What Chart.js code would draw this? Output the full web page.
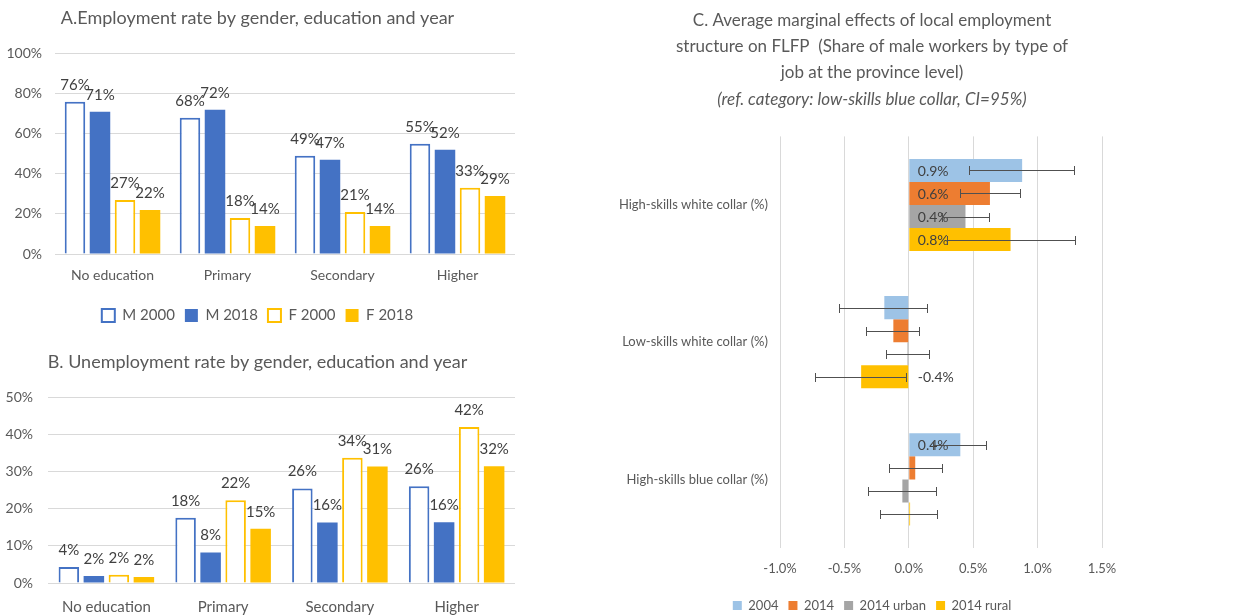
<!DOCTYPE html>
<html>
<head>
<meta charset="utf-8">
<script src="https://cdn.jsdelivr.net/npm/chart.js@4"></script>
<style>
  html, body { margin: 0; padding: 0; background: #fff; }
  body { width: 1234px; height: 616px; position: relative; overflow: hidden; }
  canvas { position: absolute; }
  #chartA { left: 0; top: 0; }
  #chartB { left: 0; top: 340px; }
  #chartC { left: 600px; top: 0; }
</style>
</head>
<body>
<canvas id="chartA" width="535" height="333"></canvas>
<canvas id="chartB" width="535" height="281"></canvas>
<canvas id="chartC" width="634" height="622"></canvas>
<script>
// categories and values
var eduCats = ["No education", "Primary", "Secondary", "Higher"];
var empM2000 = [76, 68, 49, 55];
var empM2018 = [71, 72, 47, 52];
var empF2000 = [27, 18, 21, 33];
var empF2018 = [22, 14, 14, 29];

var unempM2000 = [4.3, 17.6, 25.5, 26.1];
var unempM2018 = [1.9, 8.2, 16.3, 16.4];
var unempF2000 = [2.2, 22.3, 33.8, 42.1];
var unempF2018 = [1.6, 14.6, 31.4, 31.5];

var pctTicksA = [0, 20, 40, 60, 80, 100];
var pctTicksB = [0, 10, 20, 30, 40, 50];

var effCats = ["High-skills white collar (%)", "Low-skills white collar (%)", "High-skills blue collar (%)"];
var eff2004 = [0.88, -0.19, 0.40];
var lo2004 = [0.47, -0.54, 0.19];
var hi2004 = [1.28, 0.14, 0.60];
var eff2014 = [0.63, -0.12, 0.05];
var lo2014 = [0.40, -0.33, -0.15];
var hi2014 = [0.86, 0.08, 0.26];
var effUrban = [0.44, -0.01, -0.05];
var loUrban = [0.26, -0.18, -0.32];
var hiUrban = [0.62, 0.16, 0.21];
var effRural = [0.79, -0.37, 0.01];
var loRural = [0.30, -0.73, -0.22];
var hiRural = [1.29, -0.02, 0.22];
var show2004 = [true, false, true];
var show2014 = [true, false, false];
var showUrban = [true, false, false];
var showRural = [true, true, false];

var BLUE = "#4472C4";
var GOLD = "#FFC000";
var GREY = "#595959";
var GRID = "#D9D9D9";

Chart.defaults.font.family = "Lato";
Chart.defaults.color = GREY;

// value labels above the bars (charts A and B)
var topLabels = {
  id: "topLabels",
  afterDatasetsDraw: function (chart) {
    var ctx = chart.ctx;
    ctx.save();
    ctx.font = "15px Lato";
    ctx.fillStyle = "#404040";
    ctx.textAlign = "center";
    ctx.textBaseline = "middle";
    chart.data.datasets.forEach(function (ds, i) {
      chart.getDatasetMeta(i).data.forEach(function (bar, j) {
        ctx.fillText(Math.round(ds.data[j]) + "%", bar.x, bar.y - 17);
      });
    });
    ctx.restore();
  },
};

// error bars + labels for chart C
var errorBars = {
  id: "errorBars",
  afterDatasetsDraw: function (chart) {
    var ctx = chart.ctx;
    var x = chart.scales.x;
    var zero = x.getPixelForValue(0);
    ctx.save();
    chart.data.datasets.forEach(function (ds, i) {
      chart.getDatasetMeta(i).data.forEach(function (bar, j) {
        if (ds.show[j]) {
          ctx.font = "14px Lato";
          ctx.fillStyle = "#404040";
          ctx.textAlign = "left";
          ctx.textBaseline = "middle";
          ctx.fillText(ds.data[j].toFixed(1) + "%", zero + 9, bar.y + 1);
        }
        var x1 = Math.round(x.getPixelForValue(ds.lo[j])) + 0.5;
        var x2 = Math.round(x.getPixelForValue(ds.hi[j])) + 0.5;
        var y = Math.round(bar.y) + 0.5;
        ctx.strokeStyle = "#505050";
        ctx.lineWidth = 1;
        ctx.beginPath();
        ctx.moveTo(x1, y);
        ctx.lineTo(x2, y);
        ctx.moveTo(x1, y - 4.5);
        ctx.lineTo(x1, y + 4.5);
        ctx.moveTo(x2, y - 4.5);
        ctx.lineTo(x2, y + 4.5);
        ctx.stroke();
      });
    });
    ctx.restore();
  },
};

function eduDatasets(m0, m1, f0, f1) {
  return [
    { label: "M 2000", data: m0, backgroundColor: "#fff", borderColor: BLUE, borderWidth: 2 },
    { label: "M 2018", data: m1, backgroundColor: BLUE, borderColor: BLUE, borderWidth: 0 },
    { label: "F 2000", data: f0, backgroundColor: "#fff", borderColor: GOLD, borderWidth: 2 },
    { label: "F 2018", data: f1, backgroundColor: GOLD, borderColor: GOLD, borderWidth: 0 },
  ];
}

function pctAxis(ticks, width, pad) {
  return {
    min: ticks[0],
    max: ticks[ticks.length - 1],
    afterBuildTicks: function (s) {
      s.ticks = ticks.map(function (v) { return { value: v }; });
    },
    ticks: { callback: function (v) { return v + "%"; }, color: GREY, font: { size: 14 }, padding: pad },
    grid: { color: GRID, drawTicks: false },
    border: { display: false },
    afterFit: function (s) { s.width = width; },
  };
}

// A. Employment rate
new Chart(document.getElementById("chartA"), {
  type: "bar",
  data: { labels: eduCats, datasets: eduDatasets(empM2000, empM2018, empF2000, empF2018) },
  options: {
    responsive: false,
    animation: false,
    layout: { padding: { left: 0, right: 20, top: 0, bottom: 0 } },
    datasets: { bar: { categoryPercentage: 0.87, barPercentage: 0.82 } },
    plugins: {
      title: {
        display: true,
        text: "A.Employment rate by gender, education and year",
        color: GREY,
        font: { size: 18, weight: "normal" },
        padding: { top: 7, bottom: 25 },
      },
      legend: {
        position: "bottom",
        labels: { boxWidth: 13, boxHeight: 13, color: GREY, font: { size: 15 }, padding: 10 },
      },
      tooltip: { enabled: false },
    },
    scales: {
      x: {
        grid: { display: false, drawTicks: false },
        border: { display: false },
        ticks: { color: GREY, font: { size: 14 }, padding: 13 },
        afterFit: function (s) { s.height = 44; },
      },
      y: pctAxis(pctTicksA, 55, 13),
    },
  },
  plugins: [topLabels],
});

// B. Unemployment rate
new Chart(document.getElementById("chartB"), {
  type: "bar",
  data: { labels: eduCats, datasets: eduDatasets(unempM2000, unempM2018, unempF2000, unempF2018) },
  options: {
    responsive: false,
    animation: false,
    layout: { padding: { left: 0, right: 20, top: 0, bottom: 0 } },
    datasets: { bar: { categoryPercentage: 0.857, barPercentage: 0.82 } },
    plugins: {
      title: {
        display: true,
        text: "B. Unemployment rate by gender, education and year",
        color: GREY,
        font: { size: 18, weight: "normal" },
        padding: { top: 11, bottom: 25 },
      },
      legend: { display: false },
      tooltip: { enabled: false },
    },
    scales: {
      x: {
        grid: { display: false, drawTicks: false },
        border: { display: false },
        ticks: { color: GREY, font: { size: 15 }, padding: 15 },
        afterFit: function (s) { s.height = 38; },
      },
      y: pctAxis(pctTicksB, 48, 15),
    },
  },
  plugins: [topLabels],
});

// C. Average marginal effects
new Chart(document.getElementById("chartC"), {
  type: "bar",
  data: {
    labels: effCats,
    datasets: [
      { label: "2004", data: eff2004, lo: lo2004, hi: hi2004, show: show2004, backgroundColor: "#9DC3E6" },
      { label: "2014", data: eff2014, lo: lo2014, hi: hi2014, show: show2014, backgroundColor: "#ED7D31" },
      { label: "2014 urban", data: effUrban, lo: loUrban, hi: hiUrban, show: showUrban, backgroundColor: "#A5A5A5" },
      { label: "2014 rural", data: effRural, lo: loRural, hi: hiRural, show: showRural, backgroundColor: GOLD },
    ],
  },
  options: {
    indexAxis: "y",
    responsive: false,
    animation: false,
    layout: { padding: { left: 0, right: 90, top: 0, bottom: 0 } },
    datasets: { bar: { categoryPercentage: 0.672, barPercentage: 1.0 } },
    plugins: {
      title: {
        display: true,
        text: [
          "C. Average marginal effects of local employment",
          "structure on FLFP  (Share of male workers by type of",
          "job at the province level)",
        ],
        color: GREY,
        font: { size: 17, weight: "normal", lineHeight: 1.55 },
        padding: { top: 7, bottom: 0 },
      },
      subtitle: {
        display: true,
        text: "(ref. category: low-skills blue collar, CI=95%)",
        color: GREY,
        font: { size: 17, style: "italic", weight: "normal", lineHeight: 1.55 },
        padding: { top: 0, bottom: 24 },
      },
      legend: {
        position: "bottom",
        labels: { boxWidth: 9, boxHeight: 9, color: GREY, font: { size: 13 }, padding: 10 },
      },
      tooltip: { enabled: false },
    },
    scales: {
      x: {
        min: -1,
        max: 1.5,
        ticks: {
          stepSize: 0.5,
          callback: function (v) { return v.toFixed(1) + "%"; },
          color: GREY,
          font: { size: 13 },
          padding: 13,
        },
        grid: { color: GRID, drawTicks: false },
        border: { display: false },
        afterFit: function (s) { s.height = 41; },
      },
      y: {
        grid: { display: false, drawTicks: false },
        border: { display: false },
        ticks: { color: GREY, font: { size: 13 }, padding: 12 },
        afterFit: function (s) { s.width = 180; },
      },
      // empty spacer on the right so the plot ends where the reference does
      yRight: {
        type: "linear",
        position: "right",
        grid: { display: false, drawTicks: false },
        border: { display: false },
        ticks: { display: false },
        afterFit: function (s) { s.width = 42; },
      },
    },
  },
  plugins: [errorBars],
});
</script>
</body>
</html>
